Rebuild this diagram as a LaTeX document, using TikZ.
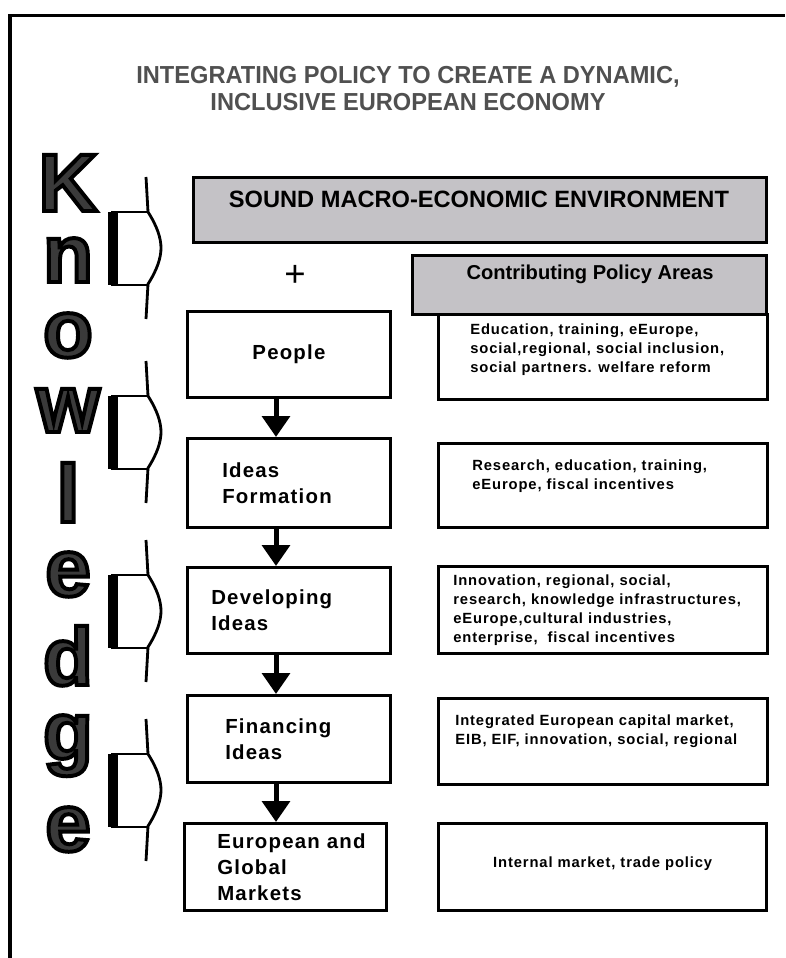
\documentclass[tikz,border=0pt]{standalone}
\usepackage{fontspec}
\setmainfont{Liberation Sans}
\newfontfamily\titlefont{Liberation Sans Bold}[FakeStretch=0.96]
\newfontfamily\boxfont{Liberation Sans Bold}[LetterSpace=6]
\newfontfamily\smallfont{Liberation Sans Bold}[LetterSpace=6]
\newfontfamily\kfont{Liberation Sans Bold}
\newcommand\outlined[1]{\special{pdf:literal direct 2 Tr 2.8 w 0 G}#1\special{pdf:literal direct 0 Tr}}
\usetikzlibrary{arrows.meta,positioning}
\definecolor{boxgrey}{HTML}{C4C2C6}
\definecolor{titlegrey}{HTML}{505050}
\definecolor{kgrey}{HTML}{3A3A3A}

\begin{document}
\begin{tikzpicture}[x=0.025cm,y=-0.025cm,
    every node/.style={inner sep=0pt},
    greybox/.style={draw, line width=2pt, fill=boxgrey, anchor=north west},
    lbox/.style={draw, line width=2pt, anchor=north west, minimum width=5.075cm},
    rbox/.style={draw, line width=2.3pt, anchor=north west, minimum width=8.225cm},
    ltext/.style={font=\boxfont\fontsize{14.5}{18.5}\selectfont, align=left, anchor=west},
    rtext/.style={font=\smallfont\fontsize{10.5}{13.5}\selectfont, align=left, anchor=west},
    kletter/.style={font=\kfont\fontsize{58}{58}\selectfont, anchor=base, text=kgrey},
    flow/.style={line width=0.125cm, -{Triangle[width=0.68cm,length=0.52cm]}},
    brk/.style={line width=2pt}]
  \useasboundingbox (0,0) rectangle (785,958);
  \draw[line width=2.2pt] (10,958) -- (10,15.5) -- (785,15.5);

  % title
  \node[font=\titlefont\fontsize{17.5}{19.2}\selectfont, text=titlegrey, align=center]
    (title) at (408,89) {INTEGRATING POLICY TO CREATE A DYNAMIC,\\INCLUSIVE EUROPEAN ECONOMY};

  % top boxes
  \node[greybox, minimum width=14.325cm, minimum height=1.625cm] (macro) at (192,176) {};
  \node[font=\bfseries\fontsize{16.8}{18}\selectfont] (macro-t) at (479,199)
    {SOUND MACRO-ECONOMIC ENVIRONMENT};
  \node[font=\fontsize{26}{26}\selectfont] (plus) at (295,276) {+};
  \node[greybox, minimum width=8.85cm, minimum height=1.475cm] (contrib) at (411,254) {};
  \node[font=\bfseries\fontsize{14.3}{16}\selectfont] (contrib-t) at (590,274)
    {Contributing Policy Areas};

  % stages
  \node[lbox, minimum height=2.15cm] (people) at (186,310) {};
  \node[lbox, minimum height=2.225cm] (ideas) at (186,437) {};
  \node[lbox, minimum height=2.15cm] (develop) at (186,566) {};
  \node[lbox, minimum height=2.175cm] (finance) at (186,694) {};
  \node[lbox, minimum width=5.05cm, minimum height=2.175cm] (markets) at (183,822) {};
  \node[ltext, anchor=center] (people-t) at (people) {People};
  \node[ltext, right=0.9cm of ideas.west] (ideas-t) {Ideas\\Formation};
  \node[ltext, right=0.625cm of develop.west] (develop-t) {Developing\\Ideas};
  \node[ltext, right=0.975cm of finance.west] (finance-t) {Financing\\Ideas};
  \node[ltext, right=0.85cm of markets.west] (markets-t) {European and\\Global\\Markets};

  \coordinate (axis) at (276,0);
  \draw[flow] (people.south -| axis) -- (ideas.north -| axis);
  \draw[flow] (ideas.south -| axis) -- (develop.north -| axis);
  \draw[flow] (develop.south -| axis) -- (finance.north -| axis);
  \draw[flow] (finance.south -| axis) -- (markets.north -| axis);

  % policy areas
  \node[rbox, minimum height=2.125cm] (pol1) at (437,313) {};
  \node[rbox, minimum height=2.1cm] (pol2) at (437,442) {};
  \node[rbox, minimum height=2.175cm] (pol3) at (437,565) {};
  \node[rbox, minimum height=2.15cm] (pol4) at (437,697) {};
  \node[rbox, minimum width=8.2cm, minimum height=2.175cm] (pol5) at (437,822) {};
  \node[rtext, right=0.825cm of pol1.west, yshift=0.19cm] (pol1-t)
    {Education, training, eEurope,\\social,regional, social inclusion,\\social partners. welfare reform};
  \node[rtext, right=0.875cm of pol2.west, yshift=0.225cm] (pol2-t)
    {Research, education, training,\\eEurope, fiscal incentives};
  \node[rtext, right=0.4cm of pol3.west] (pol3-t)
    {Innovation, regional, social,\\research, knowledge infrastructures,\\eEurope,cultural industries,\\enterprise,\ \ fiscal incentives};
  \node[rtext, right=0.45cm of pol4.west, yshift=0.25cm] (pol4-t)
    {Integrated European capital market,\\EIB, EIF, innovation, social, regional};
  \node[rtext, anchor=center, yshift=0.075cm] (pol5-t) at (pol5) {Internal market, trade policy};

  % Knowledge
  \foreach \ch/\y [count=\i] in {K/211,n/282,o/357,w/432,l/522,e/596,d/685,g/759,e/851}
    \node[kletter] (k\i) at (68,\y) {\outlined{\ch}};
  \foreach \c in {248,432,611,790}{
    \draw[brk] (146,\c-71) -- (148,\c-36) .. controls (157,\c-22) and (161,\c-10) .. (161,\c)
      .. controls (161,\c+10) and (157,\c+22) .. (148,\c+36) -- (146,\c+71);
    \draw[line width=1.5pt] (148,\c-36) -- (112,\c-36) -- (112,\c+37) -- (148,\c+37);
    \fill (108,\c-36) rectangle (118,\c+37);
  }
\end{tikzpicture}
\end{document}
